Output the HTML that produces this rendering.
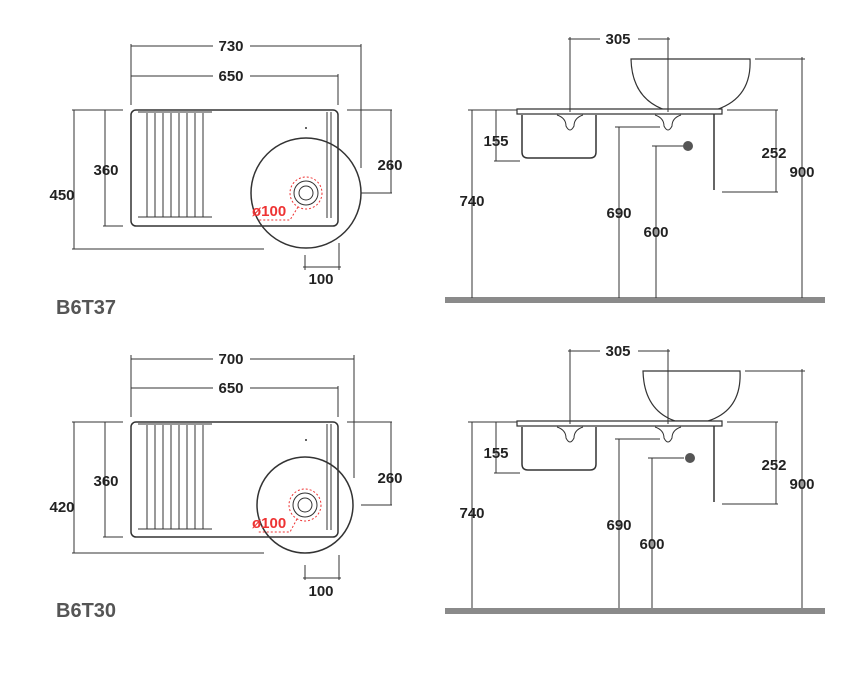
<!DOCTYPE html>
<html><head><style>
html,body{margin:0;padding:0;background:#fff;}
svg{display:block;}
text{font-family:"Liberation Sans",sans-serif;font-weight:bold;font-size:15px;fill:#222;}
.d{stroke:#333;stroke-width:1;fill:none;}
.o{stroke:#333;stroke-width:1.5;fill:none;}
.w{stroke:#333;stroke-width:1.2;fill:#fff;}
.r{stroke:#e33;stroke-width:1;fill:none;stroke-dasharray:2 2;}
.b{font-size:20px;fill:#555;}
</style></head><body>
<svg width="853" height="688" viewBox="0 0 853 688">
<!-- ===== PLAN 1 ===== -->
<g>
<path class="d" d="M131,44V105M361,44V168M131,46H213M250,46H361M338,74V105M131,76H213M250,76H338"/>
<text x="231" y="51" text-anchor="middle">730</text>
<text x="231" y="81" text-anchor="middle">650</text>
<rect class="o" x="131" y="110" width="207" height="116" rx="5"/>
<path class="d" d="M138,112H212M138,217H212"/>
<g class="d"><path d="M147,113V217M155,113V217M163,113V217M171,113V217M179,113V217M187,113V217M195,113V217M203,113V217"/></g>
<path class="d" d="M327,112V218M331,112V218"/>
<circle class="o" cx="306" cy="193" r="55" style="fill:none"/>
<circle class="d" cx="306" cy="193" r="12"/><circle class="d" cx="306" cy="193" r="7"/>
<circle class="r" cx="306" cy="193" r="16"/>
<path class="r" d="M298,207L290,220H258"/>
<text x="252" y="216" style="fill:#e33">ø100</text>
<circle cx="306" cy="128" r="1" fill="#333"/>
<path class="d" d="M74,110V249M72,110H123M72,249H264M105,110V226M103,226H123M391,110V193M347,110H392M361,193H392M305,255V270M339,243V270M303,267H341"/>
<text x="62" y="200" text-anchor="middle">450</text>
<text x="106" y="175" text-anchor="middle">360</text>
<text x="390" y="170" text-anchor="middle">260</text>
<text x="321" y="284" text-anchor="middle">100</text>
<text x="56" y="314" class="b">B6T37</text>
</g>
<!-- ===== PLAN 2 ===== -->
<g>
<path class="d" d="M131,355V417M354,355V478M131,359H213M250,359H354M338,386V417M131,388H213M250,388H338"/>
<text x="231" y="364" text-anchor="middle">700</text>
<text x="231" y="393" text-anchor="middle">650</text>
<rect class="o" x="131" y="422" width="207" height="115" rx="5"/>
<path class="d" d="M138,424H212M138,529H212"/>
<g class="d"><path d="M147,425V529M155,425V529M163,425V529M171,425V529M179,425V529M187,425V529M195,425V529M203,425V529"/></g>
<path class="d" d="M327,424V530M331,424V530"/>
<circle class="o" cx="305" cy="505" r="48"/>
<circle class="d" cx="305" cy="505" r="12"/><circle class="d" cx="305" cy="505" r="7"/>
<circle class="r" cx="305" cy="505" r="16"/>
<path class="r" d="M297,519L290,532H258"/>
<text x="252" y="528" style="fill:#e33">ø100</text>
<circle cx="306" cy="440" r="1" fill="#333"/>
<path class="d" d="M74,422V553M72,422H123M72,553H264M105,422V537M103,537H123M391,422V505M347,422H392M361,505H392M305,565V580M339,555V580M303,578H341"/>
<text x="62" y="512" text-anchor="middle">420</text>
<text x="106" y="486" text-anchor="middle">360</text>
<text x="390" y="483" text-anchor="middle">260</text>
<text x="321" y="596" text-anchor="middle">100</text>
<text x="56" y="617" class="b">B6T30</text>
</g>
<!-- ===== ELEVATION 1 ===== -->
<g>
<rect x="445" y="297" width="380" height="6" fill="#8a8a8a"/>
<path class="w" d="M631,59H750Q752,100 712,111H668Q632,100 631,59Z"/>
<path class="w" d="M517,109H722V114H517Z"/>
<path class="o" d="M522,115V152Q522,158 528,158H590Q596,158 596,152V115"/>
<path class="d" d="M557,115Q566,118 566,126Q570,134 574,126Q574,118 583,115M655,115Q664,118 664,126Q668,134 672,126Q672,118 681,115"/>
<path class="o" d="M714,114V190"/>
<path class="d" d="M570,37V112M668,37V112M568,39H600M638,39H670M802,57V298M755,59H805M776,110V192M727,110H778M722,192H778M472,110V298M468,110H517M496,110V161M494,161H520M619,127V298M615,127H660M656,146V298M652,146H684"/>
<circle cx="688" cy="146" r="5" fill="#555"/>
<text x="618" y="44" text-anchor="middle">305</text>
<text x="802" y="177" text-anchor="middle">900</text>
<text x="774" y="158" text-anchor="middle">252</text>
<text x="472" y="206" text-anchor="middle">740</text>
<text x="496" y="146" text-anchor="middle">155</text>
<text x="619" y="218" text-anchor="middle">690</text>
<text x="656" y="237" text-anchor="middle">600</text>
</g>
<!-- ===== ELEVATION 2 ===== -->
<g>
<rect x="445" y="608" width="380" height="6" fill="#8a8a8a"/>
<path class="w" d="M643,371H740Q742,410 708,421H675Q644,410 643,371Z"/>
<path class="w" d="M517,421H722V426H517Z"/>
<path class="o" d="M522,427V464Q522,470 528,470H590Q596,470 596,464V427"/>
<path class="d" d="M557,427Q566,430 566,438Q570,446 574,438Q574,430 583,427M655,427Q664,430 664,438Q668,446 672,438Q672,430 681,427"/>
<path class="o" d="M714,426V502"/>
<path class="d" d="M570,349V424M668,349V424M568,351H600M638,351H670M802,369V608M745,371H805M776,422V504M727,422H778M722,504H778M472,422V608M468,422H517M496,422V473M494,473H520M619,439V608M615,439H660M652,458V608M648,458H684"/>
<circle cx="690" cy="458" r="5" fill="#555"/>
<text x="618" y="356" text-anchor="middle">305</text>
<text x="802" y="489" text-anchor="middle">900</text>
<text x="774" y="470" text-anchor="middle">252</text>
<text x="472" y="518" text-anchor="middle">740</text>
<text x="496" y="458" text-anchor="middle">155</text>
<text x="619" y="530" text-anchor="middle">690</text>
<text x="652" y="549" text-anchor="middle">600</text>
</g>
</svg>
</body></html>
